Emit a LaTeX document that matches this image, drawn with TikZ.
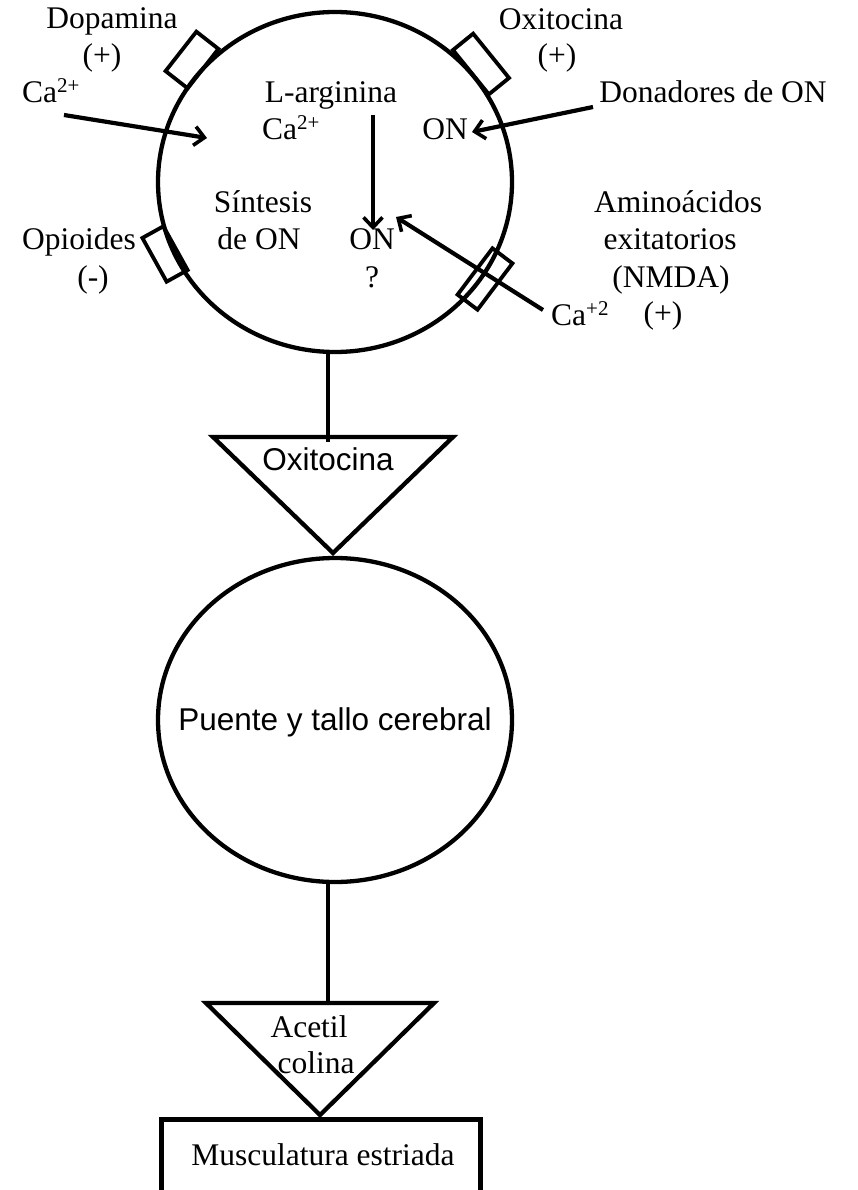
\documentclass[tikz,border=0pt]{standalone}
\usepackage{fontspec}
\setmainfont{Liberation Serif}
\setsansfont{Liberation Sans}
\usetikzlibrary{arrows.meta}
\newcommand{\supx}[1]{\raisebox{10pt}{\fontsize{21}{21}\selectfont #1}}
\begin{document}
\begin{tikzpicture}[x=1pt,y=-1pt,
  txt/.style={inner sep=0pt, anchor=base, font=\fontsize{31.5}{37}\selectfont},
  stxt/.style={inner sep=0pt, anchor=base, font=\sffamily\fontsize{31.5}{37}\selectfont},
  shape line/.style={line width=4.3pt, line join=miter},
  rbox/.style={draw, rectangle, line width=3.8pt, inner sep=0pt},
  arr/.style={line width=4.2pt, -{Straight Barb[length=10pt,width=19pt,line width=3.6pt]}},
  link/.style={line width=4.3pt}]
\useasboundingbox (0,0) rectangle (857,1190);
% main cell
\draw[shape line] (335,182) ellipse [x radius=177, y radius=170];
\coordinate (c1bot) at (328,351);
% receptor boxes
\node[rbox, minimum width=50pt, minimum height=28pt, rotate=52] (rdop) at (192,60) {};
\node[rbox, minimum width=57pt, minimum height=26pt, rotate=-51] (roxi) at (481,64) {};
\node[rbox, minimum width=50pt, minimum height=24pt, rotate=-61] (ropi) at (165,254) {};
\node[rbox, minimum width=58pt, minimum height=25pt, rotate=53] (rnmda) at (485,279) {};
% outer labels
\node[txt] (dop) at (112,29) {Dopamina};
\node[txt] (dopp) at (102,66) {(+)};
\node[txt, anchor=base west] (caL) at (22,103) {Ca\supx{2+}};
\node[txt] (oxi) at (561,30) {Oxitocina};
\node[txt] (oxip) at (557,66) {(+)};
\node[txt] (don) at (713,103) {Donadores de ON};
\node[txt] (opi) at (79,250) {Opioides};
\node[txt] (opim) at (93,287) {(-)};
\node[txt] (amin) at (678,213) {Aminoácidos};
\node[txt] (exi) at (670,250) {exitatorios};
\node[txt] (nmda) at (671,287) {(NMDA)};
\node[txt] (nmdap) at (663,323) {(+)};
\node[txt, anchor=base west] (caR) at (551,325) {Ca\supx{+2}};
% inner labels
\node[txt] (larg) at (331,103) {L-arginina};
\node[txt, anchor=base west] (caI) at (262,140) {Ca\supx{2+}};
\node[txt] (onR) at (445,140) {ON};
\node[txt] (sin) at (263,213) {Síntesis};
\node[txt] (deon) at (259,250) {de ON};
\node[txt] (onL) at (372,250) {ON};
\node[txt] (q) at (372,287) {?};
% arrows
\coordinate (caLs) at (64,115);
\coordinate (caLe) at (207,138);
\coordinate (dons) at (593,107);
\coordinate (done) at (472,132);
\coordinate (vs) at (373,115);
\coordinate (ve) at (373,230);
\coordinate (caRs) at (543,310);
\coordinate (caRe) at (396,217);
\draw[arr] (caLs) -- (caLe);
\draw[arr] (dons) -- (done);
\draw[arr] (vs) -- (ve);
\draw[arr] (caRs) -- (caRe);
% oxytocin triangle
\coordinate (t1a) at (213,437);
\coordinate (t1b) at (453,437);
\coordinate (t1c) at (333,553);
\coordinate (t1top) at (328,442);
\draw[shape line] (t1a) -- (t1b) -- (t1c) -- cycle;
\draw[link] (c1bot) -- (t1top);
\node[stxt] (oxt) at (328,470) {Oxitocina};
% pons circle
\draw[shape line] (335,720) ellipse [x radius=177, y radius=162];
\node[stxt] (pue) at (335,730) {Puente y tallo cerebral};
\coordinate (c2bot) at (328,881);
% acetylcholine triangle
\coordinate (t2a) at (206,1003);
\coordinate (t2b) at (434,1003);
\coordinate (t2c) at (320,1115);
\coordinate (t2top) at (328,1005);
\draw[link] (c2bot) -- (t2top);
\draw[shape line] (t2a) -- (t2b) -- (t2c) -- cycle;
\node[txt] (ace) at (309,1037) {Acetil};
\node[txt] (col) at (316,1073) {colina};
% muscle box
\draw[line width=5pt] (161,1205) -- (161,1119) -- (480,1119) -- (480,1205);
\node[txt] (mus) at (323,1165) {Musculatura estriada};
\end{tikzpicture}
\end{document}
